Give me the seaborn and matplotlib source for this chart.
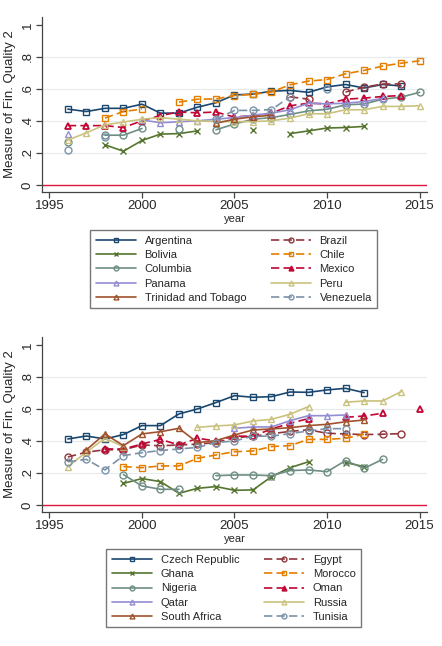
import numpy as np
import pandas as pd
import seaborn as sns
import matplotlib.pyplot as plt
from matplotlib.lines import Line2D

nan = np.nan
years = list(range(1996, 2016))

# Latin America (top panel)
argentina = [.473, .458, .478, .478, .504, .448, .448, .485, .513, .562, .567, .585, .59, .578, .612, .627, .605, .627, .618, nan]
brazil = [nan] * 12 + [.55, .535, nan, .58, .61, .63, .63, nan]
bolivia = [nan, nan, .25, .21, .277, .317, .32, .337, nan, nan, .34, nan, .32, .337, .355, .358, .365, nan, nan, nan]
chile = [nan, nan, .417, .458, .473, nan, .517, .535, .537, .558, .565, .58, .625, .648, .658, .694, .715, .742, .76, .775]
columbia = [.265, nan, .31, .31, .352, nan, .348, nan, .344, .38, .41, .42, .44, .462, .472, .5, .505, .535, .548, .578]
mexico = [.37, .37, .37, .358, .40, .433, .455, .45, .455, .423, .433, .448, .494, .51, .506, .535, .542, .552, .558, nan]
panama = [.32, nan, nan, nan, .405, .388, .394, .40, .41, .42, .435, .448, .469, .51, .506, .51, .52, .54, nan, nan]
peru = [.28, .325, .375, .392, .41, .42, .41, .40, .395, .395, .395, .40, .417, .444, .444, .469, .469, .49, .49, .494]
trinidad = [nan] * 8 + [.385, .41, .425, .435] + [nan] * 8
venezuela = [.22, nan, .30, nan, nan, nan, nan, nan, .41, .465, .465, .47, .55, nan, .60, nan, nan, nan, nan, nan]

# other countries (bottom panel)
czech = [.4125, .431, .4125, .44, .496, .496, .569, .60, .64, .683, .673, .677, .706, .704, .719, .729, .702, nan, nan, nan]
egypt = [.30, .33, .345, .345, .375, .37, .375, .38, .39, .42, .43, .445, .46, .47, .448, .444, .44, .442, .446, nan]
ghana = [nan, nan, nan, .135, .165, .146, .073, .104, .115, .092, .094, .177, .233, .27, nan, .265, .24, nan, nan, nan]
morocco = [nan, nan, nan, .24, .233, .244, .244, .292, .3125, .333, .3375, .365, .371, .41, .41, .417, .442, nan, nan, nan]
nigeria = [nan, nan, nan, .19, .119, .098, .098, nan, .183, .1875, .1875, .183, .215, .219, .208, .277, .229, .285, nan, nan]
oman = [nan, nan, .35, .35, .381, .41, .375, .417, .40, .43, .43, .475, .51, .54, nan, .548, .556, .573, nan, .60]
qatar = [nan] * 9 + [.479, .4875, .4875, .527, .558, .558, .5625] + [nan] * 4
russia = [.24, .33, .417, .365, nan, nan, nan, .485, .494, .50, .525, .535, .567, .615, nan, .642, .65, .65, .708, nan]
south_africa = [nan, .345, .444, .371, .444, .458, .479, .39, .402, .4375, .469, .475, .483, .496, .504, .52, .531, nan, nan, nan]
tunisia = [.27, .285, .219, .308, .327, .34, .35, .36, .39, .40, .43, .43, .446, .4625, .477, .477, nan, nan, nan, nan]

# stata s2color palette, in plotting order
colors = ['#1a476f', '#90353b', '#55752f', '#e37e00', '#6e8e84',
          '#c10534', '#938dd2', '#cac27e', '#a0522d', '#7b92a8']

top = [("Argentina", argentina, 's', False), ("Brazil", brazil, 'o', True),
       ("Bolivia", bolivia, 'x', False), ("Chile", chile, 's', True),
       ("Columbia", columbia, 'o', False), ("Mexico", mexico, '^', True),
       ("Panama", panama, '^', False), ("Peru", peru, '^', False),
       ("Trinidad and Tobago", trinidad, '^', False), ("Venezuela", venezuela, 'o', True)]
bottom = [("Czech Republic", czech, 's', False), ("Egypt", egypt, 'o', True),
          ("Ghana", ghana, 'x', False), ("Morocco", morocco, 's', True),
          ("Nigeria", nigeria, 'o', False), ("Oman", oman, '^', True),
          ("Qatar", qatar, '^', False), ("Russia", russia, '^', False),
          ("South Africa", south_africa, '^', False), ("Tunisia", tunisia, 'o', True)]

sns.set_style("white")
plt.rcParams['font.family'] = ['Liberation Sans', 'DejaVu Sans']

fig = plt.figure(figsize=(4.42, 6.46), dpi=100)
ax1 = fig.add_axes([0.095, 0.703, 0.871, 0.271])
ax2 = fig.add_axes([0.095, 0.2074, 0.871, 0.271])


def draw(ax, specs, legend_y):
    handles = []
    for i, (name, vals, mk, dashed) in enumerate(specs):
        df = pd.DataFrame({"year": years, "val": vals})
        df["seg"] = df["val"].isna().cumsum()
        df = df.dropna()
        ls = (0, (5, 2.5)) if dashed else '-'
        mew = 1.3 if mk == '^' and dashed else 1.0
        sns.lineplot(data=df, x="year", y="val", units="seg", estimator=None,
                     color=colors[i], marker=mk, markersize=5, markerfacecolor='none',
                     markeredgecolor=colors[i], markeredgewidth=mew,
                     linestyle=ls, linewidth=1.2, ax=ax, legend=False)
        handles.append(Line2D([], [], color=colors[i], marker=mk, markersize=3.5,
                              markerfacecolor=colors[i] if (mk == '^' and dashed) else 'none',
                              markeredgecolor=colors[i], linestyle=ls, linewidth=1.2,
                              label=name))
    ax.axhline(0, color='#dc143c', lw=1.0, zorder=1)
    for g in [.2, .4, .6, .8]:
        ax.axhline(g, color='#e6eced', lw=0.8, zorder=0)
    ax.set_xlim(1994.6, 2015.4)
    ax.set_ylim(-0.044, 1.05)
    ax.set_xticks([1995, 2000, 2005, 2010, 2015])
    ax.set_yticks([0, .2, .4, .6, .8, 1])
    ax.set_yticklabels(["0", ".2", ".4", ".6", ".8", "1"], rotation=90, va='center')
    ax.set_xlabel("year", fontsize=8, labelpad=1)
    ax.set_ylabel("Measure of Fin. Quality 2", fontsize=9.5, labelpad=4)
    ax.tick_params(axis='both', labelsize=9.5, length=4, width=0.9, color='#444444',
                   direction='out', pad=2, left=True, bottom=True)
    sns.despine(ax=ax)
    for s in ['left', 'bottom']:
        ax.spines[s].set_color('#444444')
        ax.spines[s].set_linewidth(0.9)
    # legend is filled row by row: reorder for matplotlib's column-wise fill
    ordered = handles[0::2] + handles[1::2]
    fig.legend(handles=ordered, loc='upper center', bbox_to_anchor=(0.529, legend_y),
               ncol=2, fontsize=8, frameon=True, fancybox=False, edgecolor='#555555',
               handlelength=3.6, columnspacing=2.2, labelspacing=0.38,
               borderpad=0.5, handletextpad=0.8)


draw(ax1, top, 0.652)
draw(ax2, bottom, 0.158)

plt.savefig("out.png", dpi=100)
plt.close()
